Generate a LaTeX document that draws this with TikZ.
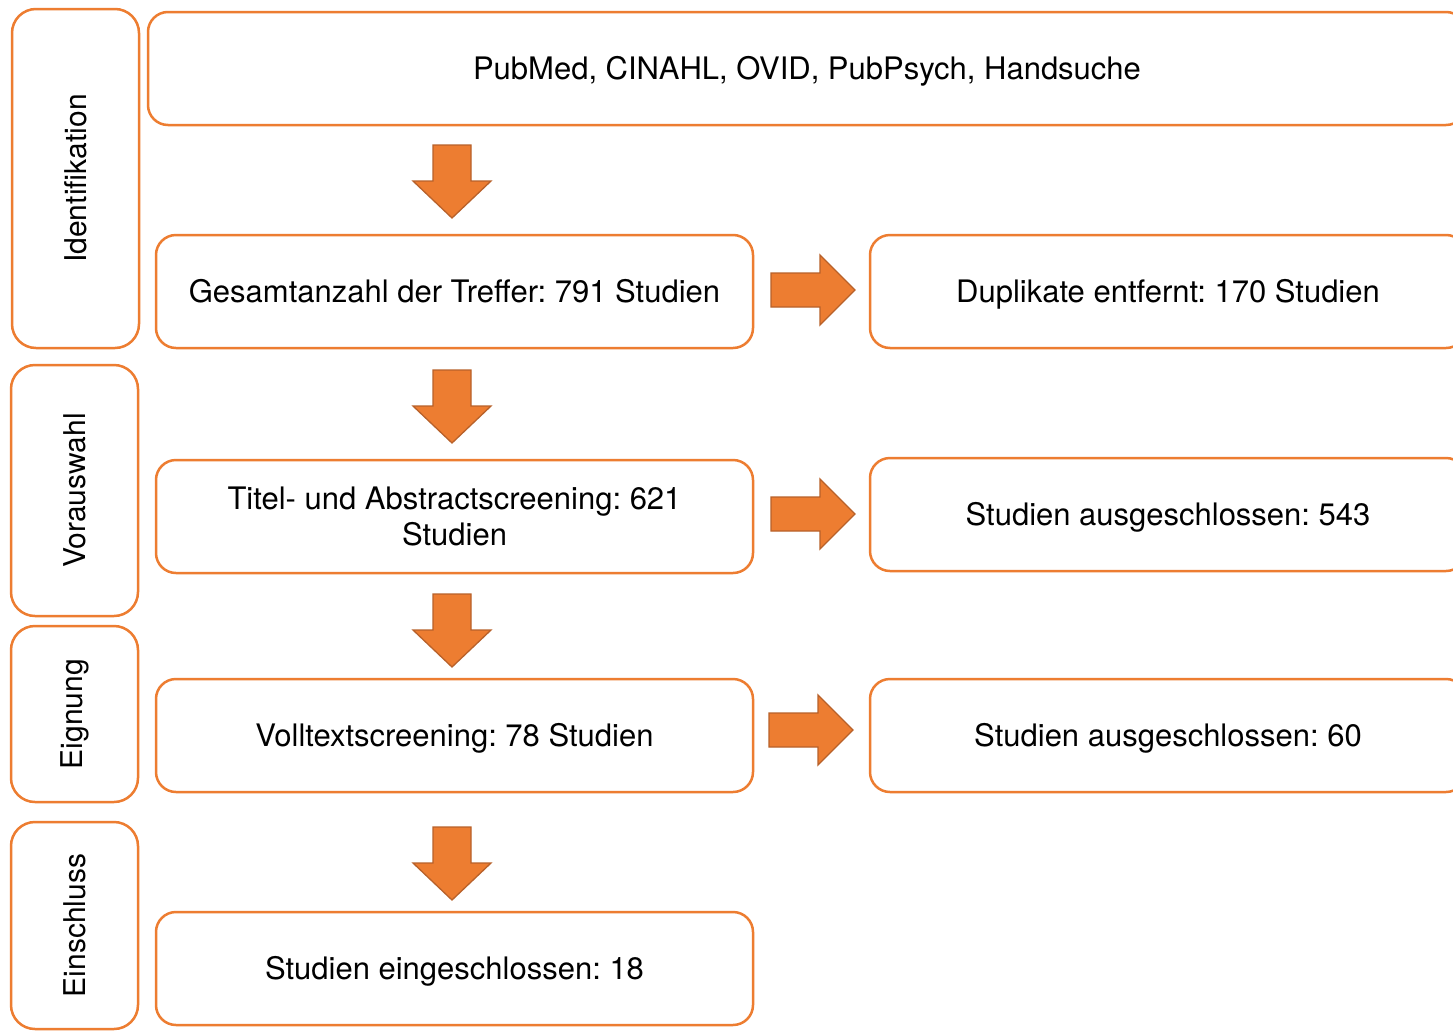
\documentclass[tikz,border=0pt]{standalone}
\usepackage{fontspec}
\setmainfont{TeX Gyre Heros}
\usetikzlibrary{calc}
\definecolor{orng}{HTML}{ED7D31}
\definecolor{orngdark}{HTML}{B8612A}
\tikzset{
  mbox/.style={draw=orng, line width=2.5pt, rounded corners=20pt, fill=white,
    align=center, inner sep=0pt, font=\fontsize{31}{36}\selectfont},
  oneline/.style={text height=23pt, text depth=1pt},
  stagebox/.style={draw=orng, line width=2.5pt, rounded corners=24pt, fill=white,
    inner sep=0pt, minimum width=127pt},
  stagelabel/.style={rotate=90, inner sep=0pt, font=\fontsize{30}{34}\selectfont},
  blockarrow/.style={fill=orng, draw=orngdark, line width=1.3pt, line join=miter}
}
\newcommand\DArrow[1]{%
  \draw[blockarrow] ($(#1)+(-19,0)$) -- ++(38,0) -- ++(0,36) -- ++(20,0)
    -- ($(#1)+(0,73)$) -- ($(#1)+(-39,36)$) -- ++(20,0) -- cycle;}
\newcommand\RArrow[1]{%
  \draw[blockarrow] ($(#1)+(0,-17)$) -- ++(49,0) -- ++(0,-18)
    -- ($(#1)+(84,0)$) -- ($(#1)+(49,35)$) -- ++(0,-18) -- ($(#1)+(0,17)$) -- cycle;}
\begin{document}
\frenchspacing
\begin{tikzpicture}[x=1pt,y=-1pt]
\useasboundingbox (0,0) rectangle (1453,1031);
\fill[white] (0,0) rectangle (1453,1031);
% stage boxes
\node[stagebox, minimum height=339pt] (s1) at (75.5,178.5) {};
\node[stagelabel] (l1) at (s1.center) {Identifikation};
\node[stagebox, minimum height=251pt] (s2) at (74.5,490.5) {};
\node[stagelabel] (l2) at (s2.center) {Vorauswahl};
\node[stagebox, minimum height=176pt] (s3) at (74.5,714) {};
\node[stagelabel] (l3) at (s3.center) {Eignung};
\node[stagebox, minimum height=207pt] (s4) at (74.5,925.5) {};
\node[stagelabel] (l4) at (s4.center) {Einschluss};
% main boxes
\node[mbox, oneline, minimum width=1318pt, minimum height=113pt] (top) at (807,68.5) {PubMed, CINAHL, OVID, PubPsych, Handsuche};
\node[mbox, oneline, minimum width=597pt, minimum height=113pt] (g) at (454.5,291.5) {Gesamtanzahl der Treffer: 791 Studien};
\node[mbox, oneline, minimum width=596pt, minimum height=113pt] (d) at (1168,291.5) {Duplikate entfernt: 170 Studien};
\node[mbox, minimum width=597pt, minimum height=113pt] (t) at (454.5,516.5) {Titel- und Abstractscreening: 621\\Studien};
\node[mbox, oneline, minimum width=596pt, minimum height=113pt] (a1) at (1168,514.5) {Studien ausgeschlossen: 543};
\node[mbox, oneline, minimum width=597pt, minimum height=113pt] (v) at (454.5,735.5) {Volltextscreening: 78 Studien};
\node[mbox, oneline, minimum width=596pt, minimum height=113pt] (a2) at (1168,735.5) {Studien ausgeschlossen: 60};
\node[mbox, oneline, minimum width=597pt, minimum height=113pt] (e) at (454.5,968.5) {Studien eingeschlossen: 18};
% connector anchors
\coordinate (c1) at (452,145);
\coordinate (c2) at (452,370);
\coordinate (c3) at (452,594);
\coordinate (c4) at (452,827);
\coordinate (r1) at (771,290);
\coordinate (r2) at (771,514);
\coordinate (r3) at (769,730);
\DArrow{c1}
\DArrow{c2}
\DArrow{c3}
\DArrow{c4}
\RArrow{r1}
\RArrow{r2}
\RArrow{r3}
\end{tikzpicture}
\end{document}
